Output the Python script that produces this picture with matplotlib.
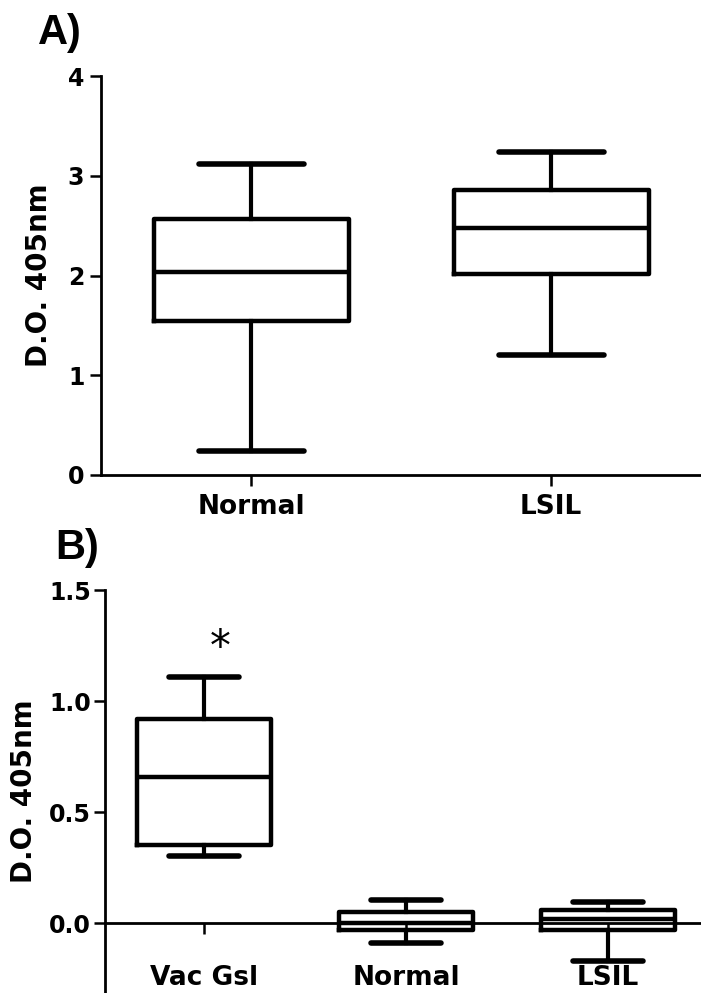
import matplotlib
matplotlib.use("Agg")
import matplotlib.pyplot as plt

# ---- data ----
groups_a = ["Normal", "LSIL"]
a_low = [0.24, 1.20]
a_q1 = [1.54, 2.02]
a_med = [2.04, 2.48]
a_q3 = [2.57, 2.86]
a_high = [3.12, 3.24]

groups_b = ["Vac Gsl", "Normal", "LSIL"]
b_low = [0.30, -0.09, -0.17]
b_q1 = [0.35, -0.03, -0.03]
b_med = [0.66, 0.00, 0.02]
b_q3 = [0.92, 0.05, 0.057]
b_high = [1.11, 0.105, 0.095]

star_group = 0
star_y = 1.24

plt.rcParams["font.family"] = ["DejaVu Sans"]
plt.rcParams["font.weight"] = "bold"


def _stats(labels, low, q1, med, q3, high):
    return [dict(label=l, whislo=lo, q1=a, med=m, q3=b, whishi=hi, fliers=[])
            for l, lo, a, m, b, hi in zip(labels, low, q1, med, q3, high)]


def _draw(ax, stats, width, capw):
    pos = list(range(1, len(stats) + 1))
    ax.bxp(stats, positions=pos, widths=width, capwidths=capw,
           showfliers=False, patch_artist=False,
           boxprops=dict(color="black", linewidth=3.2),
           whiskerprops=dict(color="black", linewidth=3.0),
           capprops=dict(color="black", linewidth=4.0, solid_capstyle="round"),
           medianprops=dict(color="black", linewidth=3.2))
    ax.set_xticks(pos)
    ax.set_xticklabels([s["label"] for s in stats])


def _style(ax):
    for side in ("top", "right"):
        ax.spines[side].set_visible(False)
    for side in ("left", "bottom"):
        ax.spines[side].set_linewidth(2.0)
    ax.tick_params(length=8, width=1.8, labelsize=17)
    ax.tick_params(axis="x", labelsize=19)
    ax.set_ylabel("D.O. 405nm", fontsize=20, fontweight="bold")


fig = plt.figure(figsize=(7.01, 9.93), dpi=100)
W, H = 701, 993

# Panel A
ax_a = fig.add_axes([101 / W, 1 - 475 / H, 600 / W, (475 - 76) / H])
_draw(ax_a, _stats(groups_a, a_low, a_q1, a_med, a_q3, a_high), 0.65, 0.35)
_style(ax_a)
ax_a.set_xlim(0.5, 2.5)
ax_a.set_ylim(0, 4)
ax_a.set_yticks([0, 1, 2, 3, 4])
ax_a.tick_params(axis="x", pad=6)
ax_a.tick_params(axis="y", pad=4)
ax_a.yaxis.set_label_coords(-0.08, 0.5)

# Panel B
ax_b = fig.add_axes([105 / W, 0, 596 / W, 1 - 590 / H])
_draw(ax_b, _stats(groups_b, b_low, b_q1, b_med, b_q3, b_high), 0.665, 0.35)
_style(ax_b)
ax_b.set_xlim(0.51, 3.46)
ax_b.set_ylim(-0.315, 1.5)
ax_b.set_yticks([0.0, 0.5, 1.0, 1.5])
ax_b.set_yticklabels(["0.0", "0.5", "1.0", "1.5"])
ax_b.spines["bottom"].set_position(("data", 0))
ax_b.tick_params(axis="x", pad=22)
ax_b.tick_params(axis="y", pad=2)
ax_b.yaxis.set_label_coords(-0.112, 0.5)
ax_b.text(star_group + 1.08, star_y, "*", ha="center", va="center",
          fontsize=30, fontweight="normal")

fig.text(38 / W, 1 - 33 / H, "A)", fontsize=30, fontweight="bold",
         family="Liberation Sans", va="center", ha="left")
fig.text(55 / W, 1 - 548 / H, "B)", fontsize=30, fontweight="bold",
         family="Liberation Sans", va="center", ha="left")

fig.savefig("out.png", dpi=100)
